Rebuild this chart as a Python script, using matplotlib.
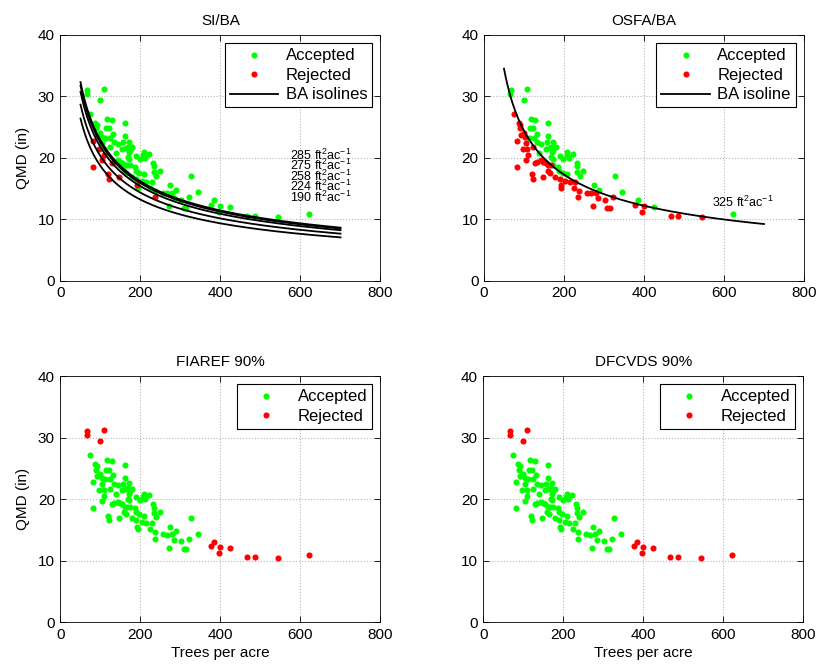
import numpy as np
import matplotlib
matplotlib.use("Agg")
import matplotlib.pyplot as plt
from matplotlib.lines import Line2D

plt.rcParams['font.family'] = ['Liberation Sans', 'DejaVu Sans']
plt.rcParams['mathtext.fontset'] = 'custom'
plt.rcParams['mathtext.rm'] = 'Liberation Sans'
plt.rcParams['mathtext.it'] = 'Liberation Sans:italic'
plt.rcParams['mathtext.bf'] = 'Liberation Sans:bold'

# ---- data: stands (trees per acre, QMD in inches) ----
tpa = [66.7, 65.8, 108, 99, 377, 385, 400, 396, 424, 467, 486, 545, 622,
       74, 82, 82, 87, 91, 90, 92, 100, 97, 103, 105, 108, 104, 109,
       117, 128, 115, 122, 112, 125, 132, 123, 128, 120, 122, 133, 143, 138,
       143, 133, 148, 147, 161, 161, 157, 155, 165, 172, 168, 173, 180, 171,
       168, 172, 155, 161, 167, 173, 159, 165, 178, 186, 188, 197, 190, 192,
       193, 189, 198, 208, 207, 212, 222, 232, 233, 233, 240, 248, 208, 203,
       215, 228, 225, 237, 236, 257, 267, 272, 275, 280, 288, 284, 302, 308,
       315, 322, 327, 345]
qmd = [31.1, 30.4, 31.2, 29.4, 12.4, 13.1, 12.2, 11.2, 12.0, 10.6, 10.6, 10.4, 10.9,
       27.2, 22.8, 18.5, 25.7, 25.4, 24.8, 23.7, 24.1, 21.5, 23.4, 22.4, 21.5, 19.7, 20.5,
       26.3, 26.2, 24.8, 24.8, 23.3, 23.2, 23.9, 21.7, 19.2, 17.3, 16.6, 22.5, 22.3, 20.8,
       19.6, 19.4, 19.4, 16.9, 25.6, 23.5, 22.5, 21.5, 21.6, 22.6, 21.8, 21.3, 21.7, 20.9,
       20.1, 19.8, 19.2, 18.8, 18.8, 18.8, 17.9, 17.6, 16.9, 18.5, 17.9, 17.6, 16.6, 15.5,
       15.1, 20.3, 19.8, 20.9, 20.4, 20.0, 20.6, 19.2, 18.6, 17.7, 17.1, 17.9, 17.3, 16.3,
       16.1, 16.1, 15.1, 14.6, 13.6, 14.3, 14.2, 12.1, 15.5, 14.3, 14.8, 13.4, 13.2, 11.9,
       11.9, 13.6, 17.0, 14.4]

# rejected flags per method (1 = rejected)
si_ba_rejected = [0]*13 + [0, 1, 1, 0, 0, 0, 0, 0, 1, 0, 0, 0, 1, 1,
                           0, 0, 0, 0, 0, 0, 0, 0, 1, 1, 1, 0, 0, 0,
                           0, 0, 0, 1, 0, 0, 0, 0, 0, 0, 0, 0, 0, 0,
                           0, 0, 0, 0, 0, 0, 0, 0, 0, 0, 0, 0, 0, 1,
                           0, 0, 0, 0, 0, 0, 0, 0, 0, 0, 0, 0, 0, 0,
                           0, 0, 0, 0, 1, 0, 0, 0, 0, 0, 0, 0, 0, 0,
                           0, 0, 0, 0]
fia_rejected = [1]*13 + [0]*(len(tpa) - 13)
dfc_rejected = [1]*13 + [0]*(len(tpa) - 13)

si_ba_levels = [285, 275, 258, 224, 190]
si_ba_label_y = [20.4, 18.7, 17.0, 15.3, 13.6]
osfa_level = 325
line_tpa_range = (50, 700)

BA_FACTOR = 0.005454  # ft^2 per in^2 of diameter

tpa_a = np.array(tpa, float)
qmd_a = np.array(qmd, float)
osfa_rejected = (BA_FACTOR * qmd_a**2 * tpa_a < osfa_level).astype(int)

GREEN = '#00ff00'
RED = '#ff0000'
MS = 4.4

W, H = 820, 670
fig = plt.figure(figsize=(W/100, H/100), dpi=100)

def make_ax(left, top, right, bottom):
    return fig.add_axes([left/W, 1 - bottom/H, (right-left)/W, (bottom-top)/H])

ax_tl = make_ax(60.5, 35, 380.5, 280.7)
ax_tr = make_ax(484, 35, 804, 280.7)
ax_bl = make_ax(60.5, 376, 380.5, 622.3)
ax_br = make_ax(483.5, 376, 803.5, 622.3)

def style(ax, title, xlabel=False, ylabel=False):
    ax.set_xlim(0, 800)
    ax.set_ylim(0, 40)
    ax.set_xticks([0, 200, 400, 600, 800])
    ax.set_yticks([0, 10, 20, 30, 40])
    ax.tick_params(direction='in', length=4, width=0.6, labelsize=11,
                   top=True, right=True, pad=4)
    ax.grid(True, linestyle=':', color='#b8b8b8', linewidth=0.8)
    ax.set_axisbelow(True)
    for s in ax.spines.values():
        s.set_linewidth(0.6)
    ax.set_title(title, fontsize=11, pad=7)
    if xlabel:
        ax.set_xlabel('Trees per acre', fontsize=11, labelpad=3)
    if ylabel:
        ax.set_ylabel('QMD (in)', fontsize=11, labelpad=6)

def scatter(ax, rej):
    rej = np.array(rej, bool)
    ax.plot(tpa_a[~rej], qmd_a[~rej], 'o', color=GREEN, ms=MS, mec='none', zorder=3)
    ax.plot(tpa_a[rej], qmd_a[rej], 'o', color=RED, ms=MS, mec='none', zorder=3)

def legend(ax, with_line=None):
    handles = [Line2D([], [], ls='none', marker='o', color=GREEN, ms=MS, mec='none'),
               Line2D([], [], ls='none', marker='o', color=RED, ms=MS, mec='none')]
    labels = ['Accepted', 'Rejected']
    if with_line:
        handles.append(Line2D([], [], color='black', lw=1.3))
        labels.append(with_line)
    leg = ax.legend(handles, labels, loc='upper right', fontsize=12, handlelength=2.9,
                    handletextpad=0.45, borderpad=0.3, labelspacing=0.27,
                    fancybox=False, framealpha=1, edgecolor='black',
                    borderaxespad=0.5)
    leg.get_frame().set_linewidth(0.8)

tl = np.linspace(line_tpa_range[0], line_tpa_range[1], 300)

# SI/BA
style(ax_tl, 'SI/BA', ylabel=True)
scatter(ax_tl, si_ba_rejected)
for lvl in si_ba_levels:
    ax_tl.plot(tl, np.sqrt(lvl / (BA_FACTOR * tl)), color='black', lw=1.3, zorder=4)
for lvl, yy in zip(si_ba_levels, si_ba_label_y):
    ax_tl.text(575, yy, f'{lvl} ft$^2$ac$^{{-1}}$', fontsize=9, va='center', ha='left', zorder=5)
legend(ax_tl, 'BA isolines')

# OSFA/BA
style(ax_tr, 'OSFA/BA')
scatter(ax_tr, osfa_rejected)
ax_tr.plot(tl, np.sqrt(osfa_level / (BA_FACTOR * tl)), color='black', lw=1.3, zorder=4)
ax_tr.text(571, 12.8, f'{osfa_level} ft$^2$ac$^{{-1}}$', fontsize=9, va='center', ha='left')
legend(ax_tr, 'BA isoline')

# FIAREF 90%
style(ax_bl, 'FIAREF 90%', xlabel=True, ylabel=True)
scatter(ax_bl, fia_rejected)
legend(ax_bl)

# DFCVDS 90%
style(ax_br, 'DFCVDS 90%', xlabel=True)
scatter(ax_br, dfc_rejected)
legend(ax_br)

fig.savefig('out.png', dpi=100)
